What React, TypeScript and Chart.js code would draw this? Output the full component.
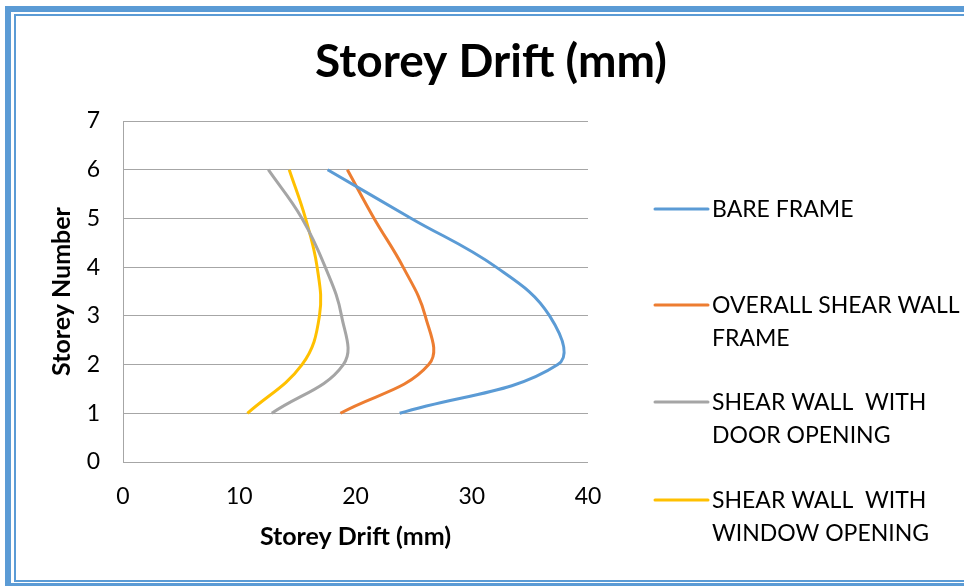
import React, { useEffect, useRef } from "react";
import { Chart, registerables } from "chart.js";

Chart.register(...registerables);

const storeys = [1, 2, 3, 4, 5, 6];
const bareFrame = [23.8, 37.4, 36.7, 32.1, 24.8, 17.6];
const overallShearWall = [18.7, 26.3, 26.0, 24.1, 21.6, 19.3];
const doorOpening = [12.8, 18.95, 18.8, 17.4, 15.4, 12.5];
const windowOpening = [10.7, 15.4, 16.9, 16.7, 15.7, 14.3];

const seriesNames = [
  ["BARE FRAME"],
  ["OVERALL SHEAR WALL", "FRAME"],
  ["SHEAR WALL  WITH", "DOOR OPENING"],
  ["SHEAR WALL  WITH", "WINDOW OPENING"],
];
const seriesValues = [bareFrame, overallShearWall, doorOpening, windowOpening];
const seriesColors = ["#5b9bd5", "#ed7d31", "#a5a5a5", "#ffc000"];

const chartTitle = "Storey Drift (mm)";
const xTitle = "Storey Drift (mm)";
const yTitle = "Storey Number";
const xTicks = [0, 10, 20, 30, 40];
const yTicks = [0, 1, 2, 3, 4, 5, 6, 7];

const FONT = "Lato, 'Noto Sans', sans-serif";

const frameTitleLegend = {
  id: "frameTitleLegend",
  afterDraw(chart: any) {
    const ctx = chart.ctx;
    const W = chart.width;
    const H = chart.height;
    ctx.save();
    // border frame
    ctx.strokeStyle = "#5b9bd5";
    ctx.lineWidth = 6;
    ctx.strokeRect(8, 9, W + 20, H - 9);
    ctx.lineWidth = 2;
    ctx.strokeRect(15, 15, W + 20, H - 20);
    // title
    ctx.fillStyle = "#000";
    ctx.font = `bold 46px ${FONT}`;
    ctx.textAlign = "center";
    ctx.textBaseline = "alphabetic";
    ctx.fillText(chartTitle, 491, 77);
    // legend
    const legendTop = [209, 305, 402, 500];
    const lineGap = 32.5;
    ctx.font = `23px ${FONT}`;
    ctx.textBaseline = "middle";
    ctx.textAlign = "left";
    chart.data.datasets.forEach((ds: any, i: number) => {
      const y = legendTop[i];
      ctx.strokeStyle = ds.borderColor;
      ctx.lineWidth = 3;
      ctx.lineCap = "round";
      ctx.beginPath();
      ctx.moveTo(655, y);
      ctx.lineTo(708, y);
      ctx.stroke();
      ctx.fillStyle = "#000";
      seriesNames[i].forEach((t, k) => ctx.fillText(t, 712, y + 1 + k * lineGap));
    });
    ctx.restore();
  },
};

export default function App() {
  const ref = useRef<HTMLCanvasElement>(null);
  useEffect(() => {
    document.body.style.margin = "0";
    const chart = new Chart(ref.current!, {
      type: "scatter",
      data: {
        datasets: seriesValues.map((vals, i) => ({
          label: seriesNames[i].join(" "),
          data: vals.map((v, k) => ({ x: v, y: storeys[k] })),
          showLine: true,
          borderColor: seriesColors[i],
          backgroundColor: seriesColors[i],
          borderWidth: 3,
          pointRadius: 0,
          tension: 0.4,
        })),
      },
      options: {
        animation: false,
        responsive: false,
        maintainAspectRatio: false,
        layout: { padding: { left: 47, right: 376, top: 121, bottom: 34 } },
        plugins: {
          legend: { display: false },
          tooltip: { enabled: false },
          title: { display: false },
        },
        scales: {
          x: {
            type: "linear",
            min: 0,
            max: 40,
            afterBuildTicks: (s: any) => {
              s.ticks = xTicks.map((v) => ({ value: v }));
            },
            afterFit: (s: any) => {
              s.height = 586 - 462 - 34;
            },
            grid: { display: false, drawTicks: false },
            border: { display: false },
            ticks: { color: "#000", padding: 21, font: { family: FONT, size: 23 } },
            title: {
              display: true,
              text: xTitle,
              color: "#000",
              padding: 0,
              font: { family: FONT, size: 25, weight: "bold", lineHeight: 1.2 },
            },
          },
          y: {
            type: "linear",
            min: 0,
            max: 7,
            afterBuildTicks: (s: any) => {
              s.ticks = yTicks.map((v) => ({ value: v }));
            },
            afterFit: (s: any) => {
              s.width = 123 - 47;
            },
            grid: { color: "#a6a6a6", lineWidth: 1, drawTicks: false },
            border: { display: true, color: "#a6a6a6", width: 1 },
            ticks: { color: "#000", padding: 23, font: { family: FONT, size: 23 } },
            title: {
              display: true,
              text: yTitle,
              color: "#000",
              padding: 0,
              font: { family: FONT, size: 25, weight: "bold", lineHeight: 1.2 },
            },
          },
        },
      },
      plugins: [frameTitleLegend],
    } as any);
    return () => chart.destroy();
  }, []);
  return (
    <div style={{ position: "absolute", left: 0, top: 0, width: 964, height: 586 }}>
      <canvas ref={ref} width={964} height={586} style={{ display: "block", width: 964, height: 586 }} />
    </div>
  );
}
